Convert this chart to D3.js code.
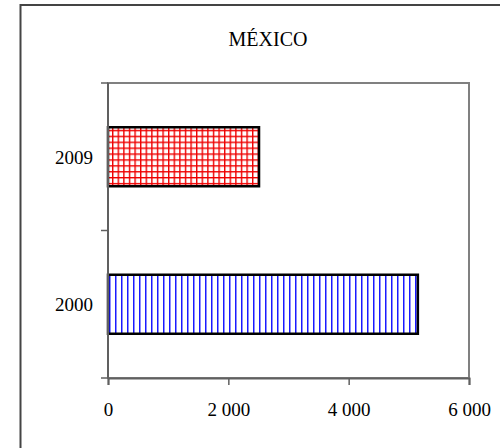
<!DOCTYPE html>
<html><head><meta charset="utf-8">
<script src="https://cdn.jsdelivr.net/npm/d3@7"></script>
<style>html,body{margin:0;padding:0;background:#fff;}svg{display:block;}</style>
</head><body>
<script>
const title = "MÉXICO";
const categories = ["2000", "2009"];
const values = [5150, 2510];
const xTicks = [0, 2000, 4000, 6000];
const xMax = 6000;

(function(){
const W = 500, H = 448;
const svg = d3.select("body").append("svg").attr("width", W).attr("height", H);
const font = "'Liberation Serif','Times New Roman',serif";

const defs = svg.append("defs");
const pb = defs.append("pattern").attr("id","vstripe").attr("patternUnits","userSpaceOnUse")
  .attr("width",6).attr("height",6);
pb.append("rect").attr("width",6).attr("height",6).attr("fill","#fff");
pb.append("rect").attr("x",1).attr("width",1.5).attr("height",6).attr("fill","#1a1aff");
const pr = defs.append("pattern").attr("id","grid").attr("patternUnits","userSpaceOnUse")
  .attr("width",5.6).attr("height",5.9);
pr.append("rect").attr("width",5.6).attr("height",5.9).attr("fill","#fff");
pr.append("rect").attr("x",0).attr("width",1.4).attr("height",5.9).attr("fill","#ee0000");
pr.append("rect").attr("y",0).attr("width",5.6).attr("height",1.4).attr("fill","#ee0000");

// outer frame
svg.append("rect").attr("x",20.5).attr("y",5).attr("width",500).attr("height",460)
  .attr("fill","none").attr("stroke","#444").attr("stroke-width",2);

const pLeft = 108, pRight = 469, pTop = 83, pBottom = 378;
const x = d3.scaleLinear().domain([0, xMax]).range([pLeft, pRight]);
const y = d3.scaleBand().domain(categories.slice().reverse()).range([pTop, pBottom])
  .paddingInner(0.6).paddingOuter(0.3);

// plot area box
svg.append("rect").attr("x",pLeft).attr("y",pTop).attr("width",pRight-pLeft).attr("height",pBottom-pTop)
  .attr("fill","none").attr("stroke","#808080").attr("stroke-width",2);

// bars
const fills = {"2000":"url(#vstripe)","2009":"url(#grid)"};
svg.append("g").selectAll("rect").data(categories).join("rect")
  .attr("x", x(0))
  .attr("y", d => y(d))
  .attr("width", (d,i) => x(values[i]) - x(0))
  .attr("height", y.bandwidth())
  .attr("fill", d => fills[d])
  .attr("stroke","#000").attr("stroke-width",2.5);

// x axis
const xAxis = d3.axisBottom(x).tickValues(xTicks).tickSize(7).tickPadding(18)
  .tickFormat(d => d3.format(",")(d).replace(/,/g," "));
const gx = svg.append("g").attr("transform",`translate(0,${pBottom})`).call(xAxis);
gx.select(".domain").attr("stroke","#606060").attr("stroke-width",2);
gx.selectAll(".tick line").attr("stroke","#606060").attr("stroke-width",1.5);
gx.selectAll("text").attr("font-family",font).attr("font-size",19).attr("fill","#000");

// y axis: ticks at band boundaries
const yBounds = [pTop, (pTop+pBottom)/2, pBottom];
const gy = svg.append("g");
gy.append("line").attr("x1",pLeft).attr("x2",pLeft).attr("y1",pTop).attr("y2",pBottom)
  .attr("stroke","#606060").attr("stroke-width",2);
gy.selectAll("line.t").data(yBounds).join("line").attr("class","t")
  .attr("x1",pLeft-7).attr("x2",pLeft).attr("y1",d=>d).attr("y2",d=>d)
  .attr("stroke","#606060").attr("stroke-width",1.5);
gy.selectAll("text").data(categories).join("text")
  .attr("x", 93).attr("y", d => y(d) + y.bandwidth()/2 + 7)
  .attr("text-anchor","end").attr("font-family",font).attr("font-size",19).attr("fill","#000")
  .text(d => d);

// title
svg.append("text").attr("x",268).attr("y",46).attr("text-anchor","middle")
  .attr("font-family",font).attr("font-size",20).attr("fill","#000").text(title);
})();
</script>
</body></html>
